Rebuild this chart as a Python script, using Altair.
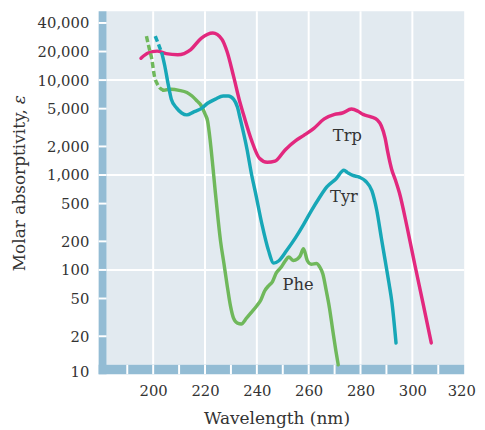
import altair as alt
import pandas as pd

# ---------------- data ----------------
trp_nm = [195.3, 198, 201.5, 205, 209.5, 214.5, 218.5, 223, 226.5, 228.5, 231, 233.5, 235, 238, 241,
          244, 247, 251, 255, 258, 262, 266, 270, 273, 276.5, 279, 281, 284, 286.5, 288, 289.5, 290.5,
          292, 293.5, 295, 298, 301, 304, 307.3]
trp_eps = [17000, 19300, 20200, 19000, 18500, 21000, 27500, 31300, 27000, 20000, 11000, 5800, 4200, 2300, 1500,
           1360, 1400, 1850, 2300, 2600, 3100, 3900, 4350, 4500, 4950, 4700, 4350, 4100, 3800, 3300, 2450, 1750,
           1150, 880, 650, 280, 112, 46, 17]

tyr_dash_nm = [200.8, 202.0, 203.4]
tyr_dash_eps = [29000, 24000, 19000]
tyr_nm = [203.4, 204.5, 205.8, 207, 209, 211, 213, 215.5, 218.5, 221, 224, 227, 229, 231, 232.5, 233.6,
          236.2, 238, 239.4, 242, 244.5, 246.5, 248.5, 251.5, 255, 258, 261, 264, 267, 270.5, 273.6, 275,
          277, 279.5, 282, 284.4, 286.3, 288, 289.5, 291, 292.1, 293.7]
tyr_eps = [19000, 14000, 9000, 6300, 5100, 4500, 4300, 4600, 5000, 5700, 6300, 6800, 6800, 6300, 5200, 3900,
           1870, 1000, 665, 300, 160, 118, 125, 160, 220, 300, 420, 570, 750, 910, 1120, 1060,
           990, 950, 860, 680, 420, 220, 126, 72, 46, 17]

phe_dash_nm = [197.4, 198.4, 199.4, 200.6, 201.5, 202.5, 204.0]
phe_dash_eps = [29000, 22000, 17000, 10600, 9200, 8300, 7800]
phe_nm = [204.0, 207, 210, 213, 215, 217, 218.5, 220, 221, 222, 223, 224, 225, 226, 227.3, 228.5, 229.8,
          231, 232.5, 234, 236, 238, 240, 241.5, 243, 244.5, 246, 247.5, 249.5, 251, 252.3, 254, 255.7,
          256.7, 258, 259.5, 261, 263, 264.2, 265.5, 266.7, 268, 269.2, 270.5, 271.4]
phe_eps = [7800, 8000, 7800, 7400, 6800, 6000, 5400, 4400, 3700, 2300, 1250, 650, 350, 200, 117, 70, 42,
           31, 27.5, 27, 31, 36, 42, 48, 60, 68, 75, 93, 108, 125, 137, 126, 131,
           140, 167, 125, 115, 117, 108, 90, 62, 40, 24, 14, 10]

series_names = ["Trp", "Tyr", "Phe"]
series_colors = ["#e2287e", "#17a7b7", "#6fb85b"]

label_text = ["Trp", "Tyr", "Phe"]
label_nm = [274.9, 273.6, 255.9]
label_eps = [2590, 590, 70]

x_ticks = [200, 220, 240, 260, 280, 300, 320]
y_ticks = [10, 20, 50, 100, 200, 500, 1000, 2000, 5000, 10000, 20000, 40000]
x_grid = [200, 220, 240, 260, 280, 300]
y_grid = [100, 1000, 10000]
x_sep = [190, 200, 210, 220, 230, 240, 250, 260, 270, 280, 290, 300, 310]

# ---------------- styling ----------------
W, H = 363, 359
BAR = "#93bcd4"
BG = "#e2eaf0"
FONT = "DejaVu Serif"
TXT = "#333333"
TFS = 17.2

xscale = alt.Scale(domain=[182, 320], nice=False, zero=False)
yscale = alt.Scale(type="log", domain=[10, 53300], nice=False)
cscale = alt.Scale(domain=series_names, range=series_colors)

xaxis = alt.Axis(values=x_ticks, title=None, labelPadding=19,
                 labelOffset={"condition": {"test": "datum.value == 320", "value": -3}, "value": 0})
yaxis = alt.Axis(values=y_ticks, format=",", title=None, labelPadding=18,
                 labelBaseline={"condition": {"test": "datum.value == 10", "value": "top"}, "value": "middle"})


def X(field="nm:Q"):
    return alt.X(field, scale=xscale, axis=xaxis)


def Y(field="eps:Q"):
    return alt.Y(field, scale=yscale, axis=yaxis)


def frame(nms, eps, name):
    return pd.DataFrame({"nm": nms, "eps": eps, "series": name, "ord": list(range(len(nms)))})


one = pd.DataFrame({"a": [0]})

layers = []

# gridlines
layers.append(alt.Chart(pd.DataFrame({"nm": x_grid})).mark_rule(color="white", strokeWidth=2).encode(x=X()))
layers.append(alt.Chart(pd.DataFrame({"eps": y_grid})).mark_rule(color="white", strokeWidth=2).encode(y=Y()))

# axis bars
layers.append(alt.Chart(one).mark_rect(color=BAR).encode(
    x=alt.value(-8), x2=alt.value(0), y=alt.value(0), y2=alt.value(H + 9.5)))
layers.append(alt.Chart(one).mark_rect(color=BAR).encode(
    x=alt.value(-8), x2=alt.value(W), y=alt.value(H), y2=alt.value(H + 9.5)))
layers.append(alt.Chart(pd.DataFrame({"nm": x_sep})).mark_rule(color="white", strokeWidth=2).encode(
    x=X(), y=alt.value(H), y2=alt.value(H + 9.5)))
layers.append(alt.Chart(pd.DataFrame({"eps": y_ticks[1:]})).mark_rule(color="white", strokeWidth=2).encode(
    y=Y(), x=alt.value(-8), x2=alt.value(0)))

solid = [(trp_nm, trp_eps, "Trp"), (phe_nm, phe_eps, "Phe"), (tyr_nm, tyr_eps, "Tyr")]
for nms, eps, name in solid:
    layers.append(alt.Chart(frame(nms, eps, name)).mark_line(
        interpolate="monotone", strokeWidth=3.5, strokeCap="round").encode(
        x=X(), y=Y(),
        color=alt.Color("series:N", scale=cscale, legend=None),
        order="ord:Q"))

for nms, eps, name in [(phe_dash_nm, phe_dash_eps, "Phe"), (tyr_dash_nm, tyr_dash_eps, "Tyr")]:
    layers.append(alt.Chart(frame(nms, eps, name)).mark_line(
        interpolate="monotone", strokeWidth=3.5, strokeDash=[6, 3]).encode(
        x=X(), y=Y(),
        color=alt.Color("series:N", scale=cscale, legend=None),
        order="ord:Q"))

# curve labels
layers.append(alt.Chart(pd.DataFrame({"t": label_text, "nm": label_nm, "eps": label_eps})).mark_text(
    font=FONT, fontSize=16.5, color=TXT, align="center", baseline="middle").encode(
    x=X(), y=Y(), text="t:N"))

# axis titles
layers.append(alt.Chart(one).mark_text(font=FONT, fontSize=TFS, color=TXT, align="center",
                                       baseline="middle").encode(
    x=alt.value(173), y=alt.value(414), text=alt.value("Wavelength (nm)")))
layers.append(alt.Chart(one).mark_text(font=FONT, fontSize=TFS, color=TXT, align="left", baseline="middle",
                                       angle=270).encode(
    x=alt.value(-88), y=alt.value(264), text=alt.value("Molar absorptivity,")))
layers.append(alt.Chart(one).mark_text(font=FONT, fontSize=TFS, color=TXT, align="center", baseline="middle",
                                       angle=270, fontStyle="italic").encode(
    x=alt.value(-88), y=alt.value(90), text=alt.value("ε")))

chart = alt.layer(*layers).properties(
    width=W, height=H,
    autosize=alt.AutoSizeParams(type="none"),
    padding={"left": 100, "top": 0, "right": 13, "bottom": 66},
    background="white",
).configure_view(fill=BG, strokeWidth=0).configure_axis(
    ticks=False, domain=False, grid=False, labelFont=FONT, labelFontSize=15, labelColor=TXT,
    labelFlush=False, labelOverlap=False,
)

chart.save("out.html", embed_options={"renderer": "svg", "actions": False})
